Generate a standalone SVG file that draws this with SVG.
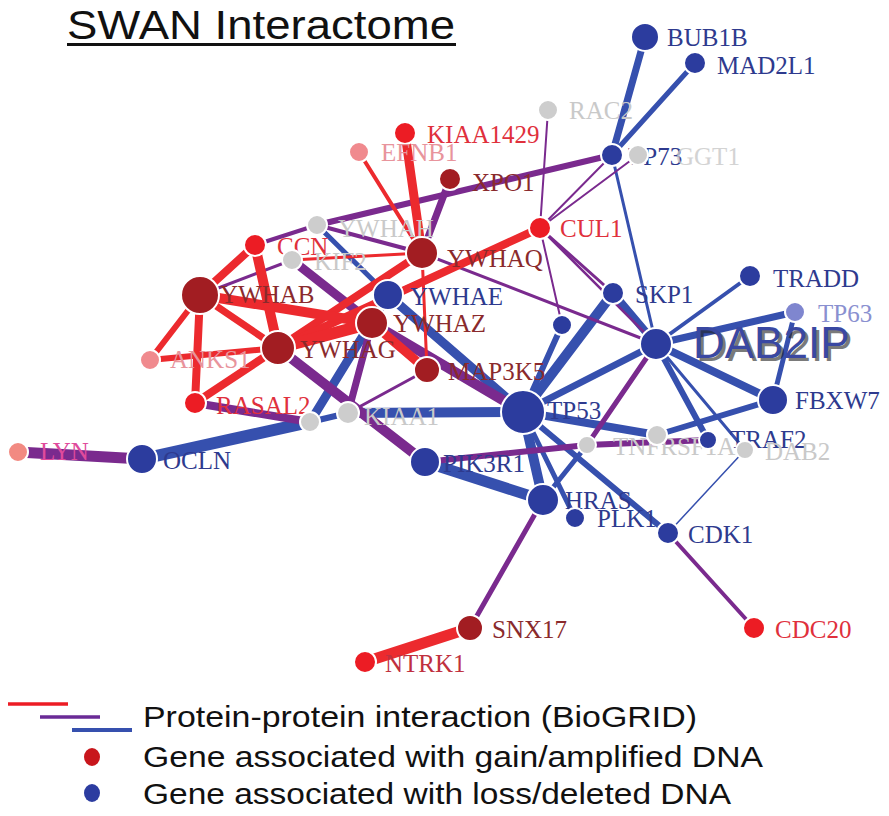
<svg xmlns="http://www.w3.org/2000/svg" width="889" height="816" viewBox="0 0 889 816">
<style>
.er{stroke:#ec2a2e;stroke-linecap:round;fill:none}
.ep{stroke:#7a2a8e;stroke-linecap:round;fill:none}
.eb{stroke:#3650ae;stroke-linecap:round;fill:none}
.n circle{stroke:#fff;stroke-width:2}
.dr{fill:#a21d22}.rd{fill:#ec1c24}.bl{fill:#2c3c9e}.gy{fill:#cdcdcd}.pk{fill:#f08a8e}
.lb{font-family:"Liberation Serif",serif;font-size:25px}
.tdr{fill:#8a2a2c}.trd{fill:#e0303c}.tbl{fill:#2e3a8e}.tgy{fill:#c9c9c9}.tpk{fill:#e8949c}
.lg{font-family:"Liberation Sans",Arial,sans-serif;font-size:29px;fill:#111}
</style>
<rect width="889" height="816" fill="#fff"/>
<g id="title">
<text x="67" y="39" font-family="Liberation Sans, Arial, sans-serif" font-size="41" fill="#111" textLength="388" lengthAdjust="spacingAndGlyphs">SWAN Interactome</text>
<rect x="67" y="43" width="389" height="3" fill="#111"/>
</g>
<g id="connectors">
<!-- blue -->
<line class="eb" stroke-width="7" x1="645" y1="37" x2="612" y2="155"/>
<line class="eb" stroke-width="5" x1="695" y1="63" x2="612" y2="155"/>
<line class="eb" stroke-width="3" x1="612" y1="155" x2="656" y2="344"/>
<line class="eb" stroke-width="8" x1="613" y1="293" x2="656" y2="344"/>
<line class="eb" stroke-width="10" x1="613" y1="293" x2="523" y2="412"/>
<line class="eb" stroke-width="6" x1="562" y1="325" x2="523" y2="412"/>
<line class="eb" stroke-width="4" x1="750" y1="276" x2="656" y2="344"/>
<line class="eb" stroke-width="7" x1="795" y1="312" x2="656" y2="344"/>
<line class="eb" stroke-width="5" x1="795" y1="312" x2="773" y2="400"/>
<line class="eb" stroke-width="8" x1="656" y1="344" x2="773" y2="400"/>
<line class="eb" stroke-width="7" x1="656" y1="344" x2="523" y2="412"/>
<line class="eb" stroke-width="6" x1="656" y1="344" x2="708" y2="440"/>
<line class="eb" stroke-width="3" x1="656" y1="344" x2="745" y2="450"/>
<line class="eb" stroke-width="6" x1="657" y1="435" x2="773" y2="400"/>
<line class="eb" stroke-width="8" x1="523" y1="412" x2="657" y2="435"/>
<line class="eb" stroke-width="9" x1="523" y1="412" x2="388" y2="295"/>
<line class="eb" stroke-width="10" x1="523" y1="412" x2="348" y2="413"/>
<line class="eb" stroke-width="10" x1="523" y1="412" x2="543" y2="500"/>
<line class="eb" stroke-width="5" x1="523" y1="412" x2="575" y2="518"/>
<line class="eb" stroke-width="6" x1="523" y1="412" x2="668" y2="533"/>
<line class="eb" stroke-width="11" x1="425" y1="462" x2="543" y2="500"/>
<line class="eb" stroke-width="5" x1="587" y1="445" x2="543" y2="500"/>
<line class="eb" stroke-width="1.5" x1="668" y1="533" x2="745" y2="450"/>
<line class="eb" stroke-width="12" x1="142" y1="459" x2="310" y2="422"/>
<line class="eb" stroke-width="9" x1="388" y1="295" x2="310" y2="422"/>
<line class="eb" stroke-width="5" x1="317" y1="225" x2="388" y2="295"/>
<line class="eb" stroke-width="6" x1="310" y1="422" x2="348" y2="413"/>
<!-- purple -->
<line class="ep" stroke-width="11" x1="18" y1="452" x2="142" y2="459"/>
<line class="ep" stroke-width="8" x1="195" y1="403" x2="310" y2="422"/>
<line class="ep" stroke-width="6" x1="317" y1="225" x2="612" y2="155"/>
<line class="ep" stroke-width="7" x1="450" y1="179" x2="422" y2="253"/>
<line class="ep" stroke-width="4" x1="317" y1="225" x2="422" y2="253"/>
<line class="ep" stroke-width="4" x1="317" y1="225" x2="255" y2="245"/>
<line class="ep" stroke-width="3" x1="422" y1="253" x2="656" y2="344"/>
<line class="ep" stroke-width="2" x1="548" y1="110" x2="540" y2="228"/>
<line class="ep" stroke-width="2" x1="612" y1="155" x2="540" y2="228"/>
<line class="ep" stroke-width="2" x1="638" y1="155" x2="540" y2="228"/>
<line class="ep" stroke-width="3" x1="540" y1="228" x2="613" y2="293"/>
<line class="ep" stroke-width="2" x1="540" y1="228" x2="562" y2="325"/>
<line class="ep" stroke-width="2.5" x1="540" y1="228" x2="656" y2="344"/>
<line class="ep" stroke-width="3" x1="388" y1="295" x2="540" y2="228"/>
<line class="ep" stroke-width="10" x1="372" y1="323" x2="523" y2="412"/>
<line class="ep" stroke-width="9" x1="292" y1="260" x2="372" y2="323"/>
<line class="ep" stroke-width="10" x1="278" y1="348" x2="425" y2="462"/>
<line class="ep" stroke-width="7" x1="372" y1="323" x2="348" y2="413"/>
<line class="ep" stroke-width="3" x1="427" y1="370" x2="348" y2="413"/>
<line class="ep" stroke-width="6" x1="425" y1="462" x2="587" y2="445"/>
<line class="ep" stroke-width="6" x1="587" y1="445" x2="708" y2="440"/>
<line class="ep" stroke-width="5" x1="656" y1="344" x2="587" y2="445"/>
<line class="ep" stroke-width="5" x1="543" y1="500" x2="470" y2="628"/>
<line class="ep" stroke-width="4" x1="668" y1="533" x2="754" y2="628"/>
<line class="ep" stroke-width="3" x1="200" y1="295" x2="292" y2="260"/>
<!-- red -->
<line class="er" stroke-width="11" x1="470" y1="628" x2="365" y2="662"/>
<line class="er" stroke-width="9" x1="405" y1="133" x2="422" y2="253"/>
<line class="er" stroke-width="4" x1="359" y1="152" x2="422" y2="253"/>
<line class="er" stroke-width="3" x1="422" y1="253" x2="427" y2="370"/>
<line class="er" stroke-width="3" x1="292" y1="260" x2="422" y2="253"/>
<line class="er" stroke-width="8" x1="278" y1="348" x2="422" y2="253"/>
<line class="er" stroke-width="8" x1="278" y1="348" x2="540" y2="228"/>
<line class="er" stroke-width="8" x1="200" y1="295" x2="255" y2="245"/>
<line class="er" stroke-width="7" x1="200" y1="295" x2="278" y2="348"/>
<line class="er" stroke-width="10" x1="200" y1="295" x2="372" y2="323"/>
<line class="er" stroke-width="8" x1="200" y1="295" x2="195" y2="403"/>
<line class="er" stroke-width="6" x1="200" y1="295" x2="150" y2="360"/>
<line class="er" stroke-width="10" x1="255" y1="245" x2="278" y2="348"/>
<line class="er" stroke-width="6" x1="150" y1="360" x2="278" y2="348"/>
<line class="er" stroke-width="8" x1="195" y1="403" x2="278" y2="348"/>
<line class="er" stroke-width="12" x1="278" y1="348" x2="372" y2="323"/>
<line class="er" stroke-width="9" x1="372" y1="323" x2="427" y2="370"/>
</g>
<g id="n-BUB1B" class="n"><circle class="bl" cx="645" cy="37" r="14"/><text class="lb tbl" x="667" y="46">BUB1B</text></g>
<g id="n-MAD2L1" class="n"><circle class="bl" cx="695" cy="63" r="11"/><text class="lb tbl" x="717" y="74">MAD2L1</text></g>
<g id="n-RAC2" class="n"><circle class="gy" cx="548" cy="110" r="10"/><text class="lb tgy" x="569" y="119">RAC2</text></g>
<g id="n-TP73" class="n"><text class="lb tbl" x="628" y="165">TP73</text><circle class="bl" cx="612" cy="155" r="11"/></g>
<g id="n-GGT1" class="n"><circle class="gy" cx="638" cy="155" r="10"/><text class="lb tgy" x="676" y="165" opacity="0.8">GGT1</text></g>
<g id="n-KIAA1429" class="n"><circle class="rd" cx="405" cy="133" r="11"/><text class="lb trd" x="427" y="143">KIAA1429</text></g>
<g id="n-EFNB1" class="n"><circle class="pk" cx="359" cy="152" r="10"/><text class="lb tpk" x="381" y="161">EFNB1</text></g>
<g id="n-XPO1" class="n"><circle class="dr" cx="450" cy="179" r="11"/><text class="lb tdr" x="472" y="191">XPO1</text></g>
<g id="n-YWHAH" class="n"><circle class="gy" cx="317" cy="225" r="10"/><text class="lb tgy" x="338" y="237">YWHAH</text></g>
<g id="n-CUL1" class="n"><circle class="rd" cx="540" cy="228" r="11"/><text class="lb trd" x="560" y="237">CUL1</text></g>
<g id="n-CCN" class="n"><circle class="rd" cx="255" cy="245" r="11"/><text class="lb trd" x="277" y="255">CCN</text></g>
<g id="n-KIF2" class="n"><circle class="gy" cx="292" cy="260" r="10"/><text class="lb tgy" x="314" y="270">KIF2</text></g>
<g id="n-YWHAQ" class="n"><circle class="dr" cx="422" cy="253" r="16"/><text class="lb tdr" x="447" y="267">YWHAQ</text></g>
<g id="n-YWHAB" class="n"><circle class="dr" cx="200" cy="295" r="19"/><text class="lb tdr" x="220" y="303">YWHAB</text></g>
<g id="n-YWHAE" class="n"><circle class="bl" cx="388" cy="295" r="15"/><text class="lb tbl" x="410" y="305">YWHAE</text></g>
<g id="n-YWHAZ" class="n"><circle class="dr" cx="372" cy="323" r="16"/><text class="lb tdr" x="393" y="332">YWHAZ</text></g>
<g id="n-YWHAG" class="n"><circle class="dr" cx="278" cy="348" r="17"/><text class="lb tdr" x="300" y="358">YWHAG</text></g>
<g id="n-ANKS1" class="n"><circle class="pk" cx="150" cy="360" r="10"/><text class="lb tpk" x="170" y="368">ANKS1</text></g>
<g id="n-MAP3K5" class="n"><circle class="dr" cx="427" cy="370" r="13"/><text class="lb tdr" x="448" y="380">MAP3K5</text></g>
<g id="n-RASAL2" class="n"><circle class="rd" cx="195" cy="403" r="11"/><text class="lb trd" x="216" y="414">RASAL2</text></g>
<g id="n-G1" class="n"><circle class="gy" cx="310" cy="422" r="10"/></g>
<g id="n-KIAA1" class="n"><circle class="gy" cx="348" cy="413" r="11"/><text class="lb tgy" x="364" y="425">KIAA1</text></g>
<g id="n-LYN" class="n"><circle fill="#f28a82" cx="18" cy="452" r="10"/><text class="lb" fill="#e04a9c" x="40" y="460">LYN</text></g>
<g id="n-OCLN" class="n"><circle class="bl" cx="142" cy="459" r="15"/><text class="lb tbl" x="163" y="469">OCLN</text></g>
<g id="n-CUL4A" class="n"><circle class="bl" cx="562" cy="325" r="10"/></g>
<g id="n-SKP1" class="n"><circle class="bl" cx="613" cy="293" r="11"/><text class="lb tbl" x="635" y="303">SKP1</text></g>
<g id="n-TRADD" class="n"><circle class="bl" cx="750" cy="276" r="11"/><text class="lb tbl" x="773" y="287">TRADD</text></g>
<g id="n-TP63" class="n"><circle fill="#7f86cf" cx="795" cy="312" r="10"/><text class="lb" fill="#8a90d0" x="818" y="322">TP63</text></g>
<g id="n-FBXW7" class="n"><circle class="bl" cx="773" cy="400" r="15"/><text class="lb tbl" x="795" y="409">FBXW7</text></g>
<g id="n-TNFRSF1A" class="n"><circle class="gy" cx="587" cy="445" r="9"/><text class="lb tgy" x="613" y="455">TNFRSF1A</text></g>
<g id="n-G2" class="n"><circle class="gy" cx="657" cy="435" r="10"/></g>
<g id="n-TRAF2" class="n"><circle class="bl" cx="708" cy="440" r="9"/><text class="lb tbl" x="730" y="448">TRAF2</text></g>
<g id="n-DAB2" class="n"><circle class="gy" cx="745" cy="450" r="9"/><text class="lb tgy" x="765" y="460">DAB2</text></g>
<g id="n-TP53" class="n"><circle class="bl" cx="523" cy="412" r="22"/><text class="lb tbl" x="547" y="419">TP53</text></g>
<g id="n-PIK3R1" class="n"><circle class="bl" cx="425" cy="462" r="15"/><text class="lb tbl" x="443" y="472">PIK3R1</text></g>
<g id="n-HRAS" class="n"><circle class="bl" cx="543" cy="500" r="16"/><text class="lb tbl" x="565" y="509">HRAS</text></g>
<g id="n-PLK1" class="n"><circle class="bl" cx="575" cy="518" r="10"/><text class="lb tbl" x="597" y="527">PLK1</text></g>
<g id="n-CDK1" class="n"><circle class="bl" cx="668" cy="533" r="11"/><text class="lb tbl" x="688" y="543">CDK1</text></g>
<g id="n-SNX17" class="n"><circle class="dr" cx="470" cy="628" r="13"/><text class="lb tdr" x="492" y="638">SNX17</text></g>
<g id="n-NTRK1" class="n"><circle class="rd" cx="365" cy="662" r="11"/><text class="lb" fill="#c0303e" x="385" y="672">NTRK1</text></g>
<g id="n-CDC20" class="n"><circle class="rd" cx="754" cy="628" r="11"/><text class="lb trd" x="775" y="638">CDC20</text></g>
<g id="n-DAB2IP" class="n"><circle class="bl" cx="656" cy="344" r="16"/>
<text x="696" y="361" font-family="Liberation Sans, Arial, sans-serif" font-size="44" fill="#222" opacity="0.6">DAB2IP</text>
<text x="693" y="358" font-family="Liberation Sans, Arial, sans-serif" font-size="44" fill="#3a48a2">DAB2IP</text></g>
<g id="legend">
<line x1="8" y1="704" x2="68" y2="704" stroke="#ec1c24" stroke-width="3.5"/>
<line x1="40" y1="717" x2="100" y2="717" stroke="#6a2a96" stroke-width="3.5"/>
<line x1="72" y1="730" x2="132" y2="730" stroke="#3650ae" stroke-width="4"/>
<text class="lg" x="143" y="727" textLength="554" lengthAdjust="spacingAndGlyphs">Protein-protein interaction (BioGRID)</text>
<ellipse cx="92" cy="757" rx="8" ry="9" fill="#c8161c"/>
<text class="lg" x="143" y="767" textLength="620" lengthAdjust="spacingAndGlyphs">Gene associated with gain/amplified DNA</text>
<ellipse cx="92" cy="793" rx="8" ry="9" fill="#2c3ca0"/>
<text class="lg" x="143" y="804" textLength="588" lengthAdjust="spacingAndGlyphs">Gene associated with loss/deleted DNA</text>
</g>
</svg>
